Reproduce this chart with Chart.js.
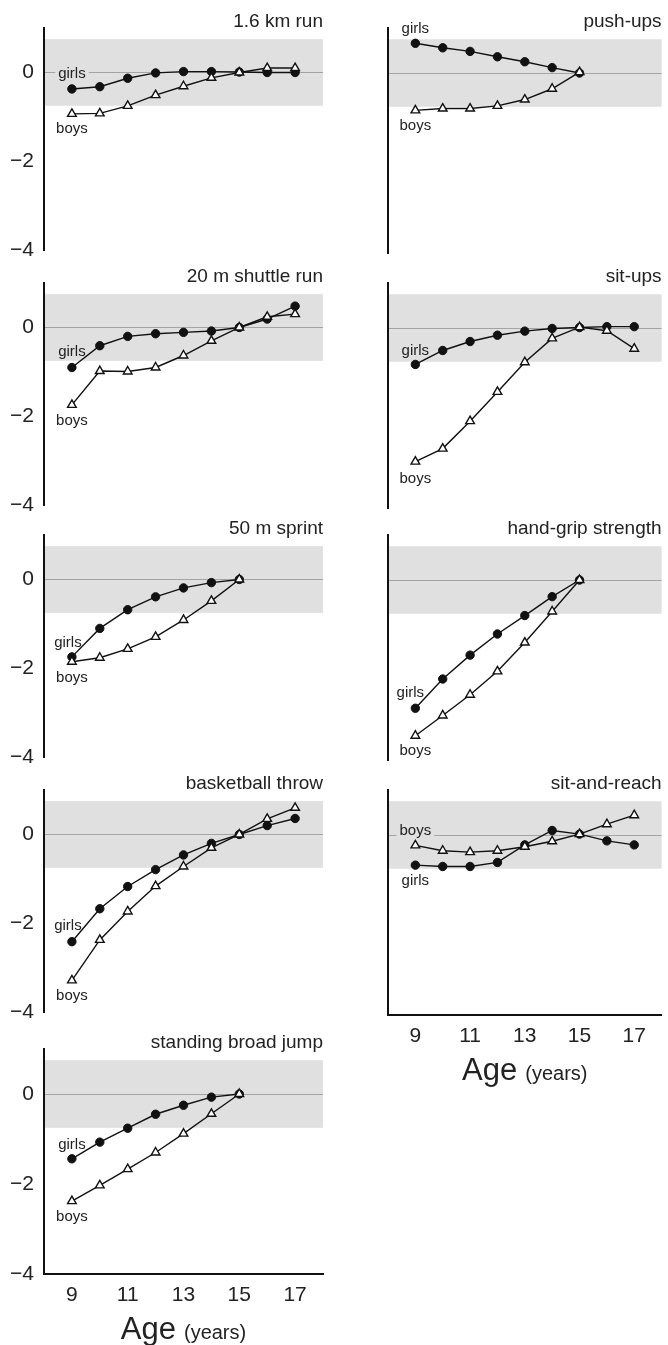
<!DOCTYPE html>
<html>
<head>
<meta charset="utf-8">
<script src="https://cdn.jsdelivr.net/npm/chart.js@4/dist/chart.umd.min.js"></script>
<style>
    body { margin: 0; background: #fff; width: 668px; height: 1345px; position: relative; overflow: hidden; }
    canvas { position: absolute; }
</style>
</head>
<body>
<script>
// Ages on the x axis
const ages = [9, 10, 11, 12, 13, 14, 15, 16, 17];
const xTicks = [9, 11, 13, 15, 17];
const yTicks = [-4, -2, 0];
const BAND = 0.75;

// Values per test (z-score relative to age 15)
const runGirls = [-0.37, -0.32, -0.13, -0.01, 0.02, 0.02, 0.01, 0.0, 0.0];
const runBoys = [-0.93, -0.92, -0.75, -0.51, -0.31, -0.12, 0.0, 0.1, 0.1];

const shuttleGirls = [-0.90, -0.41, -0.20, -0.14, -0.11, -0.08, 0.0, 0.19, 0.48];
const shuttleBoys = [-1.74, -0.98, -0.99, -0.90, -0.63, -0.30, 0.0, 0.24, 0.30];

const sprintGirls = [-1.74, -1.10, -0.68, -0.39, -0.19, -0.07, 0.0];
const sprintBoys = [-1.85, -1.76, -1.56, -1.29, -0.91, -0.48, 0.0];

const throwGirls = [-2.41, -1.67, -1.17, -0.79, -0.46, -0.20, 0.0, 0.20, 0.36];
const throwBoys = [-3.28, -2.37, -1.73, -1.16, -0.72, -0.30, 0.0, 0.35, 0.60];

const jumpGirls = [-1.44, -1.07, -0.76, -0.45, -0.25, -0.07, 0.0];
const jumpBoys = [-2.38, -2.03, -1.67, -1.30, -0.88, -0.44, 0.0];

const pushGirls = [0.66, 0.56, 0.48, 0.36, 0.25, 0.12, 0.0];
const pushBoys = [-0.83, -0.79, -0.79, -0.73, -0.59, -0.35, 0.02];

const situpGirls = [-0.81, -0.50, -0.30, -0.16, -0.07, -0.01, 0.01, 0.03, 0.03];
const situpBoys = [-2.97, -2.68, -2.07, -1.42, -0.76, -0.23, 0.02, -0.06, -0.46];

const gripGirls = [-2.85, -2.20, -1.67, -1.20, -0.79, -0.37, 0.0];
const gripBoys = [-3.46, -3.01, -2.55, -2.03, -1.39, -0.70, 0.0];

const reachGirls = [-0.67, -0.70, -0.70, -0.61, -0.22, 0.10, 0.02, -0.13, -0.22];
const reachBoys = [-0.23, -0.35, -0.38, -0.35, -0.26, -0.14, 0.02, 0.24, 0.44];

const FONT = "'Liberation Sans', Arial, sans-serif";
Chart.defaults.font.family = FONT;
Chart.defaults.color = '#222';

const UNIT = 45, PAD_TOP = 40, BAND_COLOR = '#e0e0e0';

// layout of the panels: column, page y of the zero line, labels offset
const panels = [
    { title: '1.6 km run', girls: runGirls, boys: runBoys, col: 0, zeroY: 73, gDy: -15, bDy: 15 },
    { title: '20 m shuttle run', girls: shuttleGirls, boys: shuttleBoys, col: 0, zeroY: 328, gDy: -16, bDy: 16 },
    { title: '50 m sprint', girls: sprintGirls, boys: sprintBoys, col: 0, zeroY: 580, gDy: -14, bDy: 16, gDx: -4 },
    { title: 'basketball throw', girls: throwGirls, boys: throwBoys, col: 0, zeroY: 835, gDy: -16, bDy: 15, gDx: -4 },
    { title: 'standing broad jump', girls: jumpGirls, boys: jumpBoys, col: 0, zeroY: 1094, gDy: -14, bDy: 16, bottom: true },
    { title: 'push-ups', girls: pushGirls, boys: pushBoys, col: 1, zeroY: 73, gDy: -14, bDy: 16 },
    { title: 'sit-ups', girls: situpGirls, boys: situpBoys, col: 1, zeroY: 328, gDy: -14, bDy: 17 },
    { title: 'hand-grip strength', girls: gripGirls, boys: gripBoys, col: 1, zeroY: 580, gDy: -15, bDy: 15, gDx: -5 },
    { title: 'sit-and-reach', girls: reachGirls, boys: reachBoys, col: 1, zeroY: 835, gDy: 16, bDy: -14, bottom: true }
];

const panelPlugin = {
    id: 'panel',
    beforeDatasetsDraw(chart, args, opts) {
        const { ctx, chartArea: a, scales: { x, y } } = chart;
        const top = y.getPixelForValue(BAND), bot = y.getPixelForValue(-BAND);
        ctx.save();
        ctx.fillStyle = BAND_COLOR;
        ctx.fillRect(a.left + 1, top, a.right - a.left - 1, bot - top);
        const z = Math.round(y.getPixelForValue(0)) + 0.5;
        ctx.strokeStyle = '#a4a4a4';
        ctx.lineWidth = 1;
        ctx.beginPath();
        ctx.moveTo(a.left + 1, z);
        ctx.lineTo(a.right, z);
        ctx.stroke();

        // girls / boys labels next to the first point
        ctx.font = '15px ' + FONT;
        ctx.textAlign = 'center';
        ctx.textBaseline = 'middle';
        opts.labels.forEach(l => {
            const px = x.getPixelForValue(ages[0]) + (l.dx || 0);
            const py = y.getPixelForValue(l.series[0]) + l.dy;
            if (py > top && py < bot) {
                const w = ctx.measureText(l.text).width;
                ctx.fillStyle = BAND_COLOR;
                ctx.fillRect(px - w / 2 - 3, py - 8, w + 6, 16);
            }
            ctx.fillStyle = '#222';
            ctx.fillText(l.text, px, py);
        });
        ctx.restore();
    },
    afterDraw(chart, args, opts) {
        const { ctx, chartArea: a } = chart;
        ctx.save();
        ctx.fillStyle = '#222';
        ctx.textBaseline = 'alphabetic';
        ctx.font = '19px ' + FONT;
        ctx.textAlign = 'right';
        ctx.fillText(opts.title, a.right, a.top - 1);
        if (opts.axisTitle) {
            ctx.textAlign = 'left';
            const big = '31px ' + FONT, small = '20px ' + FONT;
            ctx.font = big;
            const wA = ctx.measureText('Age').width;
            ctx.font = small;
            const wY = ctx.measureText('(years)').width;
            const gap = 8;
            const x0 = (a.left + a.right) / 2 - (wA + gap + wY) / 2;
            const base = a.bottom + 65;
            ctx.font = big;
            ctx.fillText('Age', x0, base);
            ctx.font = small;
            ctx.fillText('(years)', x0 + wA + gap, base);
        }
        ctx.restore();
    }
};

function toPoints(values) {
    return values.map((v, i) => ({ x: ages[i], y: v }));
}

panels.forEach(p => {
    const xH = p.bottom ? 75 : 0;
    const padBottom = p.bottom ? 5 : 20;
    const H = PAD_TOP + 5 * UNIT + xH + padBottom;
    const W = 334;
    const canvas = document.createElement('canvas');
    canvas.width = W;
    canvas.height = H;
    canvas.style.width = W + 'px';
    canvas.style.height = H + 'px';
    canvas.style.left = (p.col * 334) + 'px';
    canvas.style.top = (p.zeroY - UNIT - PAD_TOP) + 'px';
    document.body.appendChild(canvas);

    new Chart(canvas, {
        type: 'line',
        data: {
            datasets: [{
                label: 'boys',
                data: toPoints(p.boys),
                borderColor: '#111',
                borderWidth: 1.4,
                pointStyle: 'triangle',
                pointRadius: 5,
                pointBackgroundColor: '#fff',
                pointBorderColor: '#111',
                pointBorderWidth: 1.4
            }, {
                label: 'girls',
                data: toPoints(p.girls),
                borderColor: '#111',
                borderWidth: 1.4,
                pointStyle: 'circle',
                pointRadius: 4.2,
                pointBackgroundColor: '#111',
                pointBorderColor: '#111',
                pointBorderWidth: 1
            }]
        },
        options: {
            responsive: false,
            animation: false,
            layout: { padding: { top: PAD_TOP, bottom: padBottom, left: 0, right: p.col === 0 ? 11 : 1 } },
            plugins: {
                legend: { display: false },
                tooltip: { enabled: false },
                panel: {
                    title: p.title,
                    axisTitle: !!p.bottom,
                    labels: [
                        { text: 'girls', series: p.girls, dy: p.gDy, dx: p.gDx || 0 },
                        { text: 'boys', series: p.boys, dy: p.bDy, dx: p.bDx || 0 }
                    ]
                }
            },
            scales: {
                x: {
                    type: 'linear',
                    min: 8,
                    max: 18,
                    display: !!p.bottom,
                    afterBuildTicks: axis => { axis.ticks = xTicks.map(v => ({ value: v })); },
                    afterFit: scale => { scale.height = xH; },
                    grid: { display: false, drawTicks: false },
                    border: { display: true, color: '#111', width: 2 },
                    ticks: { font: { size: 21 }, color: '#222', padding: 9, maxRotation: 0 }
                },
                y: {
                    min: -4,
                    max: 1,
                    afterBuildTicks: axis => { axis.ticks = yTicks.map(v => ({ value: v })); },
                    afterFit: scale => { scale.width = p.col === 0 ? 44 : 54; },
                    grid: { display: false, drawTicks: false },
                    border: { display: true, color: '#111', width: 2 },
                    ticks: {
                        display: p.col === 0,
                        font: { size: 21 },
                        color: '#222',
                        padding: 10,
                        callback: v => v < 0 ? '\u2212' + Math.abs(v) : String(v)
                    }
                }
            }
        },
        plugins: [panelPlugin]
    });
});
</script>
</body>
</html>
